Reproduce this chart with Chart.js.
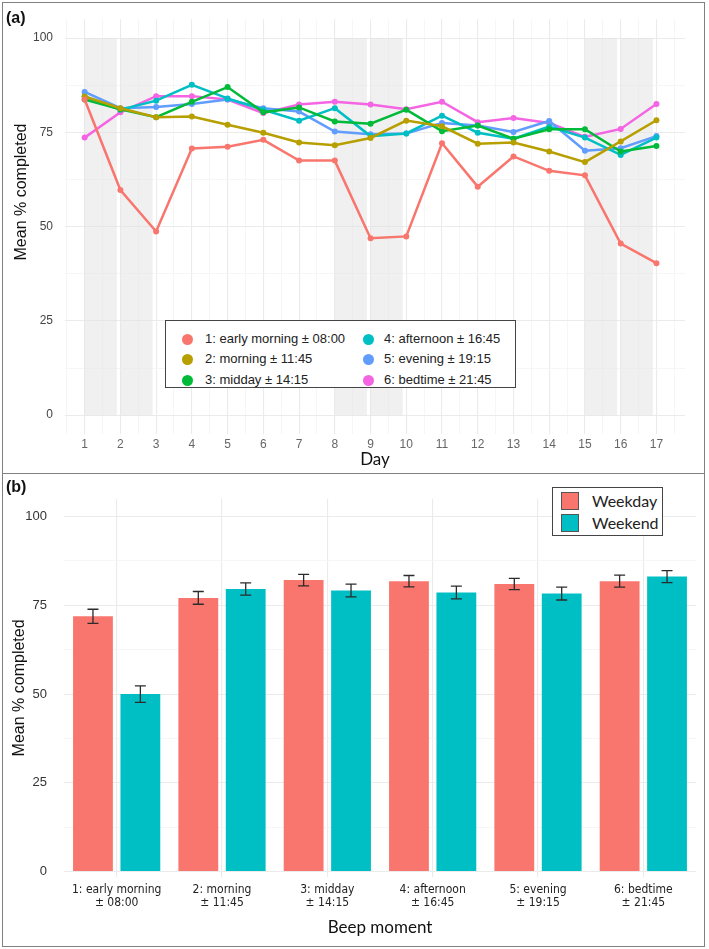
<!DOCTYPE html>
<html>
<head>
<meta charset="utf-8">
<script src="https://cdn.jsdelivr.net/npm/chart.js@4"></script>
<style>
  body { margin: 0; background: #fff; }
  #wrap { position: relative; width: 709px; height: 949px; overflow: hidden; font-family: "Liberation Sans", Arial, sans-serif; }
  canvas { position: absolute; left: 0; }
  #frame { position: absolute; left: 2px; top: 2px; width: 703px; height: 945px; border: 1.5px solid #808080; box-sizing: border-box; pointer-events: none; }
  #sep { position: absolute; left: 2px; top: 473px; width: 703px; height: 0; border-top: 1.5px solid #808080; }
  .tag { position: absolute; left: 6px; font: bold 16px "Liberation Sans Narrow", "Liberation Sans", Arial, sans-serif; color: #111; }
  #legA { position: absolute; left: 165px; top: 320px; width: 351px; height: 68px; background: #fff; border: 1px solid #444; box-sizing: border-box; }
  #legA .item { position: absolute; font-size: 13px; color: #222; white-space: nowrap; line-height: 16px; }
  #legA .dot { position: absolute; width: 11px; height: 11px; border-radius: 50%; }
  #legB { position: absolute; left: 552px; top: 487px; width: 111px; height: 49px; background: #fff; border: 1px solid #444; box-sizing: border-box; font-family: Lato, "Open Sans", sans-serif; }
  #legB .sq { position: absolute; left: 8px; width: 18px; height: 18px; border: 1px solid #555; box-sizing: border-box; }
  #legB .lab { position: absolute; left: 39px; font-size: 16px; color: #222; line-height: 20px; }
</style>
</head>
<body>
<div id="wrap">
  <canvas id="chartA" width="709" height="474" style="top:0"></canvas>
  <canvas id="chartB" width="709" height="475" style="top:474px"></canvas>
  <div id="legA"></div>
  <div id="legB"></div>
  <div class="tag" style="top:9px">(a)</div>
  <div class="tag" style="top:478px">(b)</div>
  <div id="sep"></div>
  <div id="frame"></div>
</div>
<script>
// ---- panel (a): completion per day and beep moment ----
const days = [1, 2, 3, 4, 5, 6, 7, 8, 9, 10, 11, 12, 13, 14, 15, 16, 17];
const seriesNames = [
  "1: early morning \u00b1 08:00",
  "2: morning \u00b1 11:45",
  "3: midday \u00b1 14:15",
  "4: afternoon \u00b1 16:45",
  "5: evening \u00b1 19:15",
  "6: bedtime \u00b1 21:45"
];
const seriesColors = ["#F8766D", "#B79F00", "#00BA38", "#00BFC4", "#619CFF", "#F564E3"];

const earlyMorning = [83.7, 59.7, 48.7, 70.7, 71.2, 73.0, 67.5, 67.5, 46.9, 47.4, 72.1, 60.6, 68.6, 64.8, 63.6, 45.5, 40.3];
const morning      = [84.5, 81.4, 79.0, 79.2, 77.0, 74.9, 72.3, 71.6, 73.5, 78.1, 76.6, 72.0, 72.3, 69.9, 67.1, 72.6, 78.2];
const midday       = [83.7, 81.1, 79.0, 83.1, 87.0, 80.3, 81.6, 77.9, 77.3, 81.0, 75.3, 76.8, 73.3, 75.8, 75.8, 69.9, 71.4];
const afternoon    = [84.5, 81.0, 83.4, 87.6, 84.0, 81.0, 78.1, 81.4, 74.0, 74.7, 79.4, 74.9, 73.3, 76.5, 73.6, 69.0, 73.6];
const evening      = [85.7, 81.4, 81.7, 82.5, 83.7, 81.4, 80.5, 75.2, 74.5, 74.7, 77.5, 76.8, 75.1, 78.0, 70.1, 70.8, 74.0];
const bedtime      = [73.6, 80.3, 84.6, 84.6, 83.7, 80.1, 82.4, 83.1, 82.4, 81.1, 83.1, 77.7, 78.8, 77.5, 73.8, 75.9, 82.5];

// weekend days get a grey band
const weekendDays = [1, 2, 8, 9, 15, 16];
const bandWidth = 0.9;

// ---- panel (b): weekday vs weekend ----
const beepLabels = [
  ["1: early morning", "\u00b1 08:00"],
  ["2: morning", "\u00b1 11:45"],
  ["3: midday", "\u00b1 14:15"],
  ["4: afternoon", "\u00b1 16:45"],
  ["5: evening", "\u00b1 19:15"],
  ["6: bedtime", "\u00b1 21:45"]
];
const groupNames = ["Weekday", "Weekend"];
const groupColors = ["#F8766D", "#00BFC4"];
const weekdayMean = [71.9, 77.1, 82.1, 81.8, 81.0, 81.8];
const weekendMean = [50.0, 79.6, 79.2, 78.6, 78.3, 83.1];
const weekdayErr  = [2.0, 1.8, 1.6, 1.6, 1.6, 1.7];
const weekendErr  = [2.3, 1.7, 1.8, 1.8, 1.8, 1.7];

const allSeries = [earlyMorning, morning, midday, afternoon, evening, bedtime];

const weekendBands = {
  id: "weekendBands",
  beforeDatasetsDraw(chart) {
    const {ctx, chartArea, scales: {x, y}} = chart;
    ctx.save();
    ctx.beginPath();
    ctx.rect(chartArea.left, chartArea.top, chartArea.right - chartArea.left, chartArea.bottom - chartArea.top);
    ctx.clip();
    ctx.fillStyle = "rgba(225,225,225,0.5)";
    weekendDays.forEach(d => {
      const x0 = x.getPixelForValue(d), x1 = x.getPixelForValue(d + bandWidth);
      const y0 = y.getPixelForValue(100), y1 = y.getPixelForValue(0);
      ctx.fillRect(x0, y0, x1 - x0, y1 - y0);
    });
    ctx.restore();
  }
};

// the y title of panel (a) sits a bit above the middle in the original
const sideTitle = {
  id: "sideTitle",
  afterDraw(chart) {
    const ctx = chart.ctx;
    ctx.save();
    ctx.translate(22, 192);
    ctx.rotate(-Math.PI / 2);
    ctx.font = '16px "Liberation Sans", Arial, sans-serif';
    ctx.fillStyle = "#111";
    ctx.textAlign = "center";
    ctx.textBaseline = "middle";
    ctx.fillText("Mean % completed", 0, 0);
    ctx.restore();
  }
};

new Chart(document.getElementById("chartA"), {
  type: "line",
  data: {
    datasets: allSeries.map((vals, i) => ({
      label: seriesNames[i],
      data: vals.map((v, k) => ({x: days[k], y: v})),
      borderColor: seriesColors[i],
      backgroundColor: seriesColors[i],
      borderWidth: 2.5,
      pointRadius: 3,
      pointBorderWidth: 0,
      tension: 0
    }))
  },
  options: {
    responsive: false,
    animation: false,
    layout: { padding: { top: 11, right: 24, left: 0, bottom: 0 } },
    plugins: { legend: { display: false }, tooltip: { enabled: false } },
    scales: {
      x: {
        type: "linear",
        min: 0.45, max: 17.8,
        afterFit: s => { s.height = 40; },
        border: { display: false },
        grid: {
          drawTicks: false,
          color: c => Number.isInteger(c.tick.value) ? "#ebebeb" : "#f4f4f4",
          lineWidth: c => Number.isInteger(c.tick.value) ? 1.1 : 0.8
        },
        ticks: {
          stepSize: 0.5, includeBounds: false, autoSkip: false, maxRotation: 0, padding: 3,
          color: "#666", font: { size: 12 },
          callback: v => Number.isInteger(v) ? String(v) : ""
        },
        title: { display: true, text: "Day", color: "#111", font: { family: "Lato", size: 17 }, padding: { top: 0, bottom: 4 } }
      },
      y: {
        min: -5, max: 105,
        afterFit: s => { s.width = 65; },
        border: { display: false },
        grid: {
          drawTicks: false,
          color: c => c.tick.value % 25 === 0 ? "#ebebeb" : "#f4f4f4",
          lineWidth: c => c.tick.value % 25 === 0 ? 1.1 : 0.8
        },
        ticks: {
          stepSize: 12.5, includeBounds: false, autoSkip: false, padding: 12,
          color: "#444", font: { size: 12 },
          callback: v => v % 25 === 0 ? String(v) : ""
        },
        title: { display: false }
      }
    }
  },
  plugins: [weekendBands, sideTitle]
});

// error bars drawn through the scales
const errorBars = {
  id: "errorBars",
  afterDatasetsDraw(chart) {
    const {ctx, scales: {y}} = chart;
    const errs = [weekdayErr, weekendErr];
    ctx.save();
    ctx.strokeStyle = "#2b2b2b";
    ctx.lineWidth = 1.3;
    chart.data.datasets.forEach((ds, i) => {
      chart.getDatasetMeta(i).data.forEach((bar, k) => {
        const v = ds.data[k], e = errs[i][k];
        const yt = y.getPixelForValue(v + e), yb = y.getPixelForValue(v - e);
        ctx.beginPath();
        ctx.moveTo(bar.x, yt); ctx.lineTo(bar.x, yb);
        ctx.moveTo(bar.x - 5.5, yt); ctx.lineTo(bar.x + 5.5, yt);
        ctx.moveTo(bar.x - 5.5, yb); ctx.lineTo(bar.x + 5.5, yb);
        ctx.stroke();
      });
    });
    ctx.restore();
  }
};

new Chart(document.getElementById("chartB"), {
  type: "bar",
  data: {
    labels: beepLabels,
    datasets: [
      { label: groupNames[0], data: weekdayMean, backgroundColor: groupColors[0] },
      { label: groupNames[1], data: weekendMean, backgroundColor: groupColors[1] }
    ]
  },
  options: {
    responsive: false,
    animation: false,
    layout: { padding: { top: 9, right: 13, left: 0, bottom: 0 } },
    datasets: { bar: { categoryPercentage: 0.9, barPercentage: 0.84 } },
    plugins: { legend: { display: false }, tooltip: { enabled: false } },
    scales: {
      x: {
        afterFit: s => { s.height = 72; },
        border: { display: false },
        grid: { offset: false, drawTicks: false, color: "#ebebeb", lineWidth: 1.1 },
        ticks: {
          autoSkip: false, maxRotation: 0, padding: 6, color: "#222",
          font: { family: "'Liberation Sans Narrow', 'DejaVu Sans Condensed', Arial", size: 12, lineHeight: 1.1 }
        },
        title: { display: true, text: "Beep moment", color: "#111", font: { family: "Lato", size: 17 }, padding: { top: 0, bottom: 11 } }
      },
      y: {
        min: -1.5, max: 105,
        afterFit: s => { s.width = 64; },
        border: { display: false },
        grid: {
          drawTicks: false,
          color: c => c.tick.value % 25 === 0 ? "#ebebeb" : "#f4f4f4",
          lineWidth: c => c.tick.value % 25 === 0 ? 1.1 : 0.8
        },
        ticks: {
          stepSize: 12.5, includeBounds: false, autoSkip: false, padding: 17,
          color: "#333", font: { size: 13 },
          callback: v => v % 25 === 0 ? String(v) : ""
        },
        title: { display: true, text: "Mean % completed", color: "#111", font: { size: 16 }, padding: { top: 10, bottom: 0 } }
      }
    }
  },
  plugins: [errorBars]
});

// ---- legends ----
const legA = document.getElementById("legA");
seriesNames.forEach((name, i) => {
  const col = Math.floor(i / 3), row = i % 3;
  const cx = col === 0 ? 21 : 202, cy = [18, 38, 59][row];
  const dot = document.createElement("div");
  dot.className = "dot";
  dot.style.left = (cx - 5.5) + "px";
  dot.style.top = (cy - 5.5) + "px";
  dot.style.background = seriesColors[i];
  legA.appendChild(dot);
  const t = document.createElement("div");
  t.className = "item";
  t.style.left = (col === 0 ? 39 : 218) + "px";
  t.style.top = (cy - 8) + "px";
  t.textContent = name;
  legA.appendChild(t);
});

const legB = document.getElementById("legB");
groupNames.forEach((name, i) => {
  const sq = document.createElement("div");
  sq.className = "sq";
  sq.style.top = (4 + i * 22) + "px";
  sq.style.background = groupColors[i];
  legB.appendChild(sq);
  const t = document.createElement("div");
  t.className = "lab";
  t.style.top = (3 + i * 22) + "px";
  t.textContent = name;
  legB.appendChild(t);
});
</script>
</body>
</html>
